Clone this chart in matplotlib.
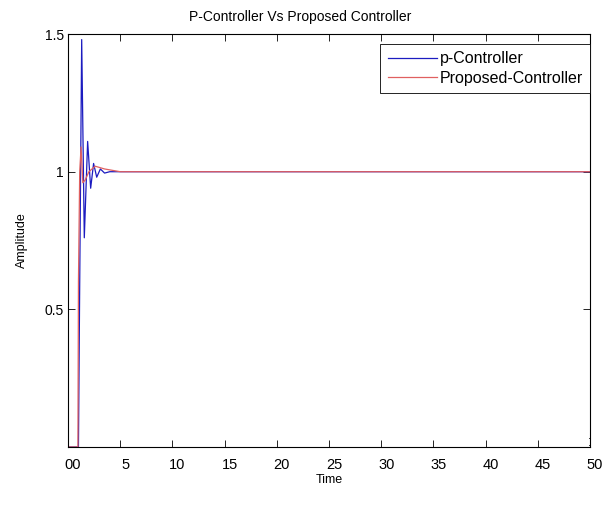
import numpy as np
import matplotlib.pyplot as plt
from matplotlib.transforms import ScaledTranslation

plt.rcParams['font.family'] = ['Liberation Sans', 'DejaVu Sans']

# step responses
t_p = [0, 1.0, 1.1, 1.31, 1.56, 1.88, 2.17, 2.45, 2.75, 3.1, 3.5, 4.0, 50]
y_p = [0, 0, 0.5, 1.48, 0.76, 1.11, 0.94, 1.03, 0.98, 1.01, 0.995, 1.0, 1.0]

t_prop = [0, 0.95, 1.0, 1.12, 1.25, 1.42, 1.65, 2.0, 2.6, 3.5, 5.0, 50]
y_prop = [0, 0, 0.6, 1.0, 1.09, 0.96, 0.97, 1.0, 1.02, 1.01, 1.0, 1.0]

xticks = [0, 5, 10, 15, 20, 25, 30, 35, 40, 45, 50]
xlabels = ['00', '5', '10', '15', '20', '25', '30', '35', '40', '45', '50']
yticks = [0.5, 1, 1.5]
ylabels = ['0.5', '1', '1.5']

fig = plt.figure(figsize=(6.04, 5.16), dpi=100)
ax = fig.add_axes([0.1126, 0.1337, 0.8642, 0.8003])

ax.plot(t_p, y_p, color='#1c1cc0', lw=0.9, label='p-Controller')
ax.plot(t_prop, y_prop, color='#e06060', lw=0.9, label='Proposed-Controller')

ax.set_xlim(0, 50)
ax.set_ylim(0, 1.5)
ax.set_xticks(xticks, xlabels)
ax.set_yticks(yticks, ylabels)
ax.tick_params(direction='in', top=True, right=True, length=5, width=0.6,
               labelsize=10, pad=8)
ax.tick_params(axis='x', labelsize=10.5)
ax.tick_params(axis='y', pad=3)
for lbl in ax.get_xticklabels():
    lbl.set_transform(lbl.get_transform() + ScaledTranslation(0.05, 0, fig.dpi_scale_trans))

ax.set_xlabel('Time', fontsize=9, labelpad=1)
ax.set_ylabel('Amplitude', fontsize=9, labelpad=12)
fig.text(0.497, 1 - 17 / 516, 'P-Controller Vs Proposed Controller',
         ha='center', va='center', fontsize=10)
fig.text(590 / 604, 1 - 442 / 516, ':', ha='center', va='center', fontsize=10)

leg = ax.legend(loc='upper right', bbox_to_anchor=(1.0, 0.976), fontsize=11.5,
                fancybox=False, edgecolor='black', framealpha=1,
                borderaxespad=0, handlelength=3.1, borderpad=0.45,
                labelspacing=0.3, handletextpad=0.15)
leg.get_frame().set_linewidth(0.6)

for s in ax.spines.values():
    s.set_linewidth(0.8)

fig.savefig('out.png', dpi=100)
